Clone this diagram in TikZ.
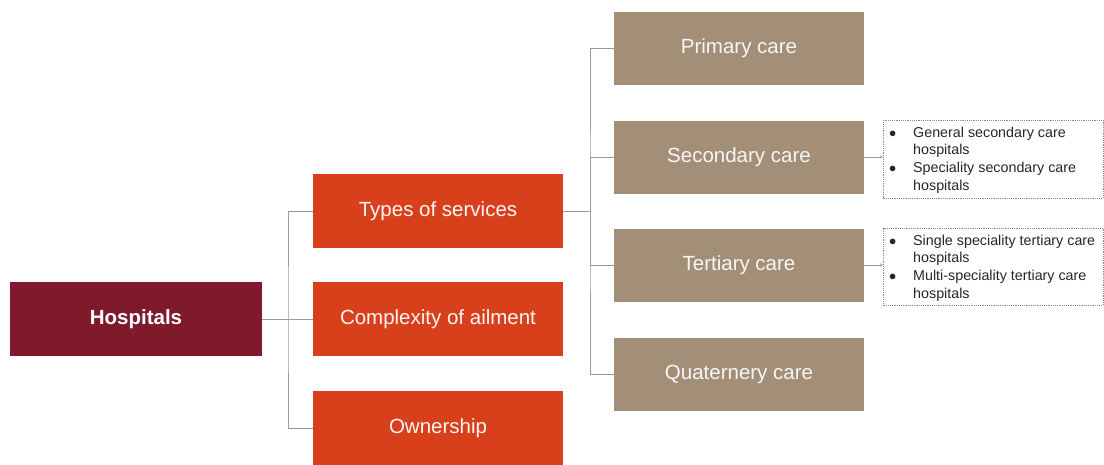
\documentclass[tikz,border=0pt]{standalone}
\usepackage{fontspec}
\setmainfont{Liberation Sans}
\usetikzlibrary{arrows.meta}
\definecolor{maroon}{HTML}{7E1A2B}
\definecolor{redbox}{HTML}{D8401C}
\definecolor{taupe}{HTML}{A38F78}
\definecolor{conn}{HTML}{9A9A9A}
\definecolor{dashc}{HTML}{8A8A8A}
\begin{document}
\begin{tikzpicture}[x=1pt,y=-1pt,
  box/.style={rectangle, inner sep=0pt, minimum width=250pt, minimum height=74pt,
    font=\fontsize{20.5}{24}\selectfont},
  rootbox/.style={box, fill=maroon, text=white, font=\fontsize{20.5}{24}\selectfont\bfseries, minimum width=252pt},
  catbox/.style={box, fill=redbox, text=white!95!redbox},
  carebox/.style={box, fill=taupe, text=white!92!taupe, minimum height=73pt},
  link/.style={draw=conn, line width=0.9pt},
  dbox/.style={rectangle, draw=dashc, dash pattern=on 1.2pt off 1pt, line width=0.6pt,
    minimum width=220pt, inner sep=0pt},
  listtext/.style={inner sep=0pt, align=left, font=\fontsize{14.3}{17.7}\selectfont, text=black!85},
  tip/.style={draw=conn, line width=0.6pt, -{Stealth[length=3pt,width=3pt]}}
]
\useasboundingbox (0,0) rectangle (1104,464);

\node[rootbox] (h) at (136,319) {Hospitals};
\node[catbox] (t) at (438,211) {Types of services};
\node[catbox] (c) at (438,319) {Complexity of ailment};
\node[catbox] (o) at (438,428) {Ownership};

\node[carebox] (p) at (739,48) {Primary care};
\node[carebox] (s) at (739,157) {Secondary care};
\node[carebox] (r) at (739,265) {Tertiary care};
\node[carebox] (q) at (739,374) {Quaternery care};

\coordinate (j1) at (288,319);
\coordinate (j2) at (590,211);

\draw[link] (h.east) -- (j1);
\draw[link] (t.west) -| (j1) |- (o.west);
\draw[link] (j1) -- (c.west);

\draw[link] (t.east) -- (j2);
\draw[link] (p.west) -| (j2) |- (q.west);
\draw[link] (s.west) -| (j2);
\draw[link] (r.west) -| (j2);

\node[dbox, minimum height=78pt, anchor=north west] (d1) at (883,120) {};
\node[dbox, minimum height=77pt, anchor=north west] (d2) at (883,228) {};

\node[listtext, anchor=north west] (l1) at (889,124.5) {%
\begin{tabular}{@{}p{24pt}@{}l@{}}
$\bullet$ & General secondary care\\
 & hospitals\\
$\bullet$ & Speciality secondary care\\
 & hospitals
\end{tabular}};
\node[listtext, anchor=north west] (l2) at (889,232.5) {%
\begin{tabular}{@{}p{24pt}@{}l@{}}
$\bullet$ & Single speciality tertiary care\\
 & hospitals\\
$\bullet$ & Multi-speciality tertiary care\\
 & hospitals
\end{tabular}};

\draw[tip] (s.east) -- (s.east -| d1.west);
\draw[tip] (r.east) -- (r.east -| d2.west);
\end{tikzpicture}
\end{document}
